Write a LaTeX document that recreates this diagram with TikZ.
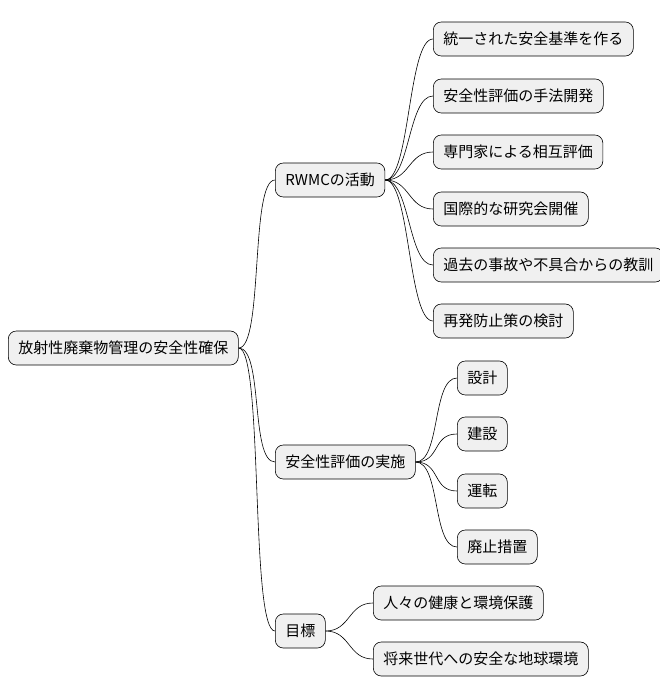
\documentclass[tikz,border=0pt]{standalone}
\usepackage{fontspec}
\newfontfamily\cjk{Noto Sans CJK JP}
\begin{document}
\begin{tikzpicture}[x=1pt,y=-1pt,
  box/.style={draw=black,fill=black!6,rounded corners=8pt,anchor=west,minimum height=34pt,inner xsep=10pt,font=\cjk\fontsize{15}{16}\selectfont,line width=0.6pt},
  link/.style={draw=black,line width=0.6pt}]
\useasboundingbox (0,0) rectangle (660,696);
\node[box] (root) at (8,348) {放射性廃棄物管理の安全性確保};
\node[box] (a) at (275,180) {RWMCの活動};
\node[box] (b) at (275,462) {安全性評価の実施};
\node[box] (c) at (275,631) {目標};
\node[box] (a1) at (433,39) {統一された安全基準を作る};
\node[box] (a2) at (433,96) {安全性評価の手法開発};
\node[box] (a3) at (433,152) {専門家による相互評価};
\node[box] (a4) at (433,209) {国際的な研究会開催};
\node[box] (a5) at (433,265) {過去の事故や不具合からの教訓};
\node[box] (a6) at (433,321) {再発防止策の検討};
\node[box] (b1) at (457,378) {設計};
\node[box] (b2) at (457,434) {建設};
\node[box] (b3) at (457,491) {運転};
\node[box] (b4) at (457,547) {廃止措置};
\node[box] (c1) at (373,603) {人々の健康と環境保護};
\node[box] (c2) at (373,659) {将来世代への安全な地球環境};
\foreach \p/\c in {root/a,root/b,root/c,a/a1,a/a2,a/a3,a/a4,a/a5,a/a6,b/b1,b/b2,b/b3,b/b4,c/c1,c/c2}
  \draw[link] (\p.east) .. controls +(25,0) and +(-25,0) .. (\c.west);
\end{tikzpicture}
\end{document}
